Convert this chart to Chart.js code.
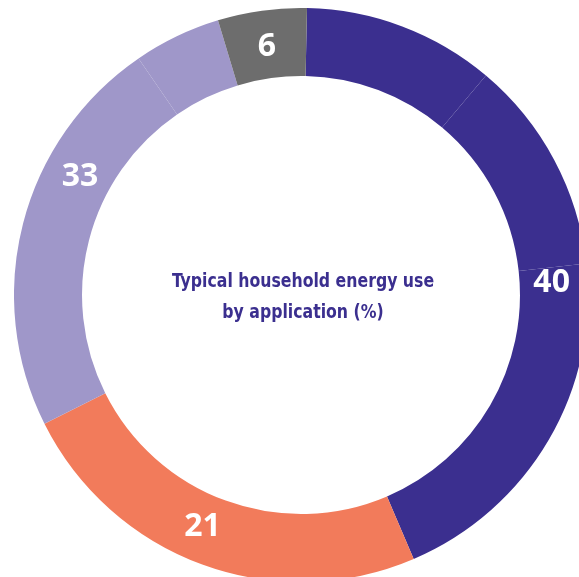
<!DOCTYPE html>
<html>
<head>
<meta charset="utf-8">
<script src="https://cdn.jsdelivr.net/npm/chart.js@4"></script>
<style>
  html, body { margin: 0; padding: 0; background: #fff; overflow: hidden; }
  body { width: 579px; height: 577px; position: relative; }
  #wrap { position: absolute; left: 14px; top: 8px; width: 574px; height: 574px; }
</style>
</head>
<body>
<div id="wrap"><canvas id="energyChart"></canvas></div>
<script>
// group totals printed on the ring
const groupNames = ["Group A", "Group B", "Group C", "Group D"];
const groupTotals = [40, 21, 33, 6];
const groupColors = ["#3b2f8f", "#f27b5b", "#9f97c9", "#6d6d6d"];

// the ring is drawn from sub-segments (arc shares, %)
const segmentNames = ["A1", "A2", "A3", "B", "C1", "C2", "D"];
const segmentShares = [10.8, 12.1, 20.3, 24.0, 22.8, 4.9, 5.0];
const segmentGroup = [0, 0, 0, 1, 2, 2, 3];

const titleLines = ["Typical household energy use", "by application (%)"];

// labels for each group, placed at the middle of its arcs
const groupLabels = {
  id: "groupLabels",
  afterDatasetsDraw(chart, args, opts) {
    const ctx = chart.ctx;
    const arcs = chart.getDatasetMeta(0).data;
    ctx.save();
    ctx.fillStyle = "#fff";
    ctx.font = "bold 32px 'Open Sans'";
    ctx.textAlign = "center";
    ctx.textBaseline = "middle";
    groupTotals.forEach((total, g) => {
      const idx = segmentGroup.map((v, i) => (v === g ? i : -1)).filter((i) => i >= 0);
      const first = arcs[idx[0]];
      const last = arcs[idx[idx.length - 1]];
      const a = (first.startAngle + last.endAngle) / 2 + (opts.nudge[g] * Math.PI) / 180;
      const r = (first.innerRadius + first.outerRadius) / 2 - 2;
      ctx.fillText(String(total), first.x + Math.cos(a) * r, first.y + Math.sin(a) * r + 1);
    });
    ctx.restore();
  },
};

// title in the hole (squeezed a bit, the original face is condensed)
const centerTitle = {
  id: "centerTitle",
  afterDraw(chart) {
    const ctx = chart.ctx;
    const arc = chart.getDatasetMeta(0).data[0];
    ctx.save();
    ctx.fillStyle = "#3b2f8f";
    ctx.font = "bold 19px 'DejaVu Sans Condensed', 'DejaVu Sans'";
    ctx.textAlign = "center";
    ctx.textBaseline = "middle";
    ctx.translate(arc.x + 2, arc.y);
    ctx.scale(0.92, 1);
    ctx.fillText(titleLines[0], 0, -13);
    ctx.fillText(titleLines[1], 0, 18);
    ctx.restore();
  },
};

new Chart(document.getElementById("energyChart"), {
  type: "doughnut",
  data: {
    labels: segmentNames,
    datasets: [
      {
        data: segmentShares,
        backgroundColor: segmentGroup.map((g) => groupColors[g]),
        borderWidth: 0,
      },
    ],
  },
  options: {
    responsive: true,
    maintainAspectRatio: false,
    animation: false,
    cutout: "76.3%",
    rotation: 1.2,
    layout: { padding: 0 },
    plugins: {
      legend: { display: false },
      tooltip: { enabled: false },
      groupLabels: { nudge: [8, 3, 5, 0] },
    },
  },
  plugins: [groupLabels, centerTitle],
});
</script>
</body>
</html>
